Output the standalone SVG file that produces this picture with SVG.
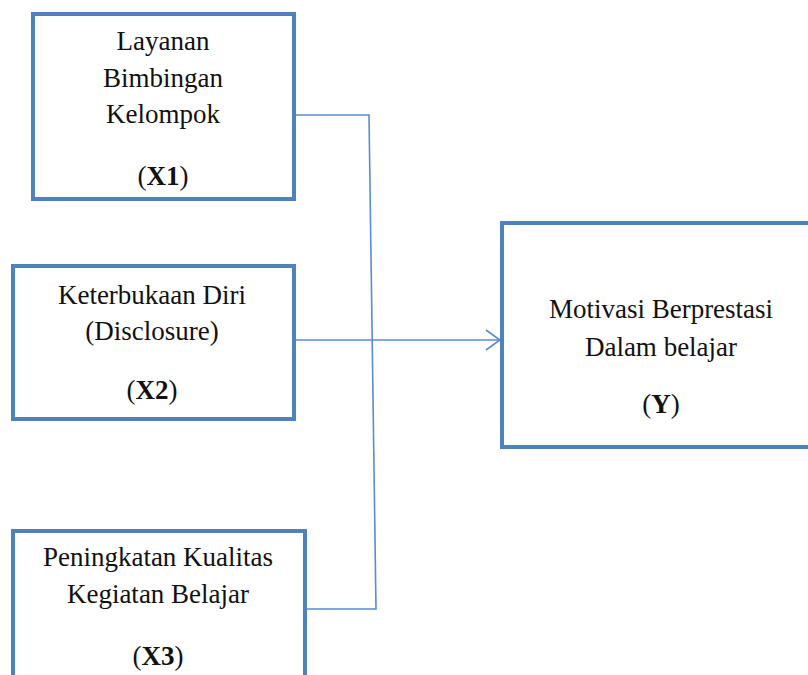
<svg xmlns="http://www.w3.org/2000/svg" width="808" height="675" viewBox="0 0 808 675">
<style>
.box{fill:#fff;stroke:#4F81BD;stroke-width:4}
.lbl{font-family:"Liberation Serif","Times New Roman",serif;font-size:27px;fill:#111;text-anchor:middle}
.b{font-weight:bold}
.conn{fill:none;stroke:#5B8BD0;stroke-width:1.6}
</style>
<defs>
<marker id="arr" markerWidth="16" markerHeight="24" refX="15" refY="11" orient="auto" markerUnits="userSpaceOnUse">
<path d="M1,1 L15,11 L1,21" fill="none" stroke="#5B8BD0" stroke-width="1.6"/>
</marker>
</defs>
<rect width="808" height="675" fill="#fff"/>
<g id="connectors">
<polyline class="conn" points="296,115 369,115 376,609 306,609"/>
<line class="conn" x1="296" y1="340" x2="500" y2="340" marker-end="url(#arr)"/>
</g>
<g id="x1">
<rect class="box" x="33" y="14" width="261" height="185"/>
<text class="lbl" x="163" y="50">Layanan</text>
<text class="lbl" x="163" y="87">Bimbingan</text>
<text class="lbl" x="163" y="123">Kelompok</text>
<text class="lbl" x="163" y="185">(<tspan class="b">X1</tspan>)</text>
</g>
<g id="x2">
<rect class="box" x="13" y="266" width="281" height="153"/>
<text class="lbl" x="152" y="304">Keterbukaan Diri</text>
<text class="lbl" x="152" y="340">(Disclosure)</text>
<text class="lbl" x="152" y="399">(<tspan class="b">X2</tspan>)</text>
</g>
<g id="x3">
<rect class="box" x="13" y="531" width="292" height="160"/>
<text class="lbl" x="158" y="566">Peningkatan Kualitas</text>
<text class="lbl" x="158" y="603">Kegiatan Belajar</text>
<text class="lbl" x="158" y="665">(<tspan class="b">X3</tspan>)</text>
</g>
<g id="y">
<rect class="box" x="502" y="223" width="320" height="224"/>
<text class="lbl" x="661" y="318">Motivasi Berprestasi</text>
<text class="lbl" x="661" y="356">Dalam belajar</text>
<text class="lbl" x="661" y="413">(<tspan class="b">Y</tspan>)</text>
</g>
</svg>
